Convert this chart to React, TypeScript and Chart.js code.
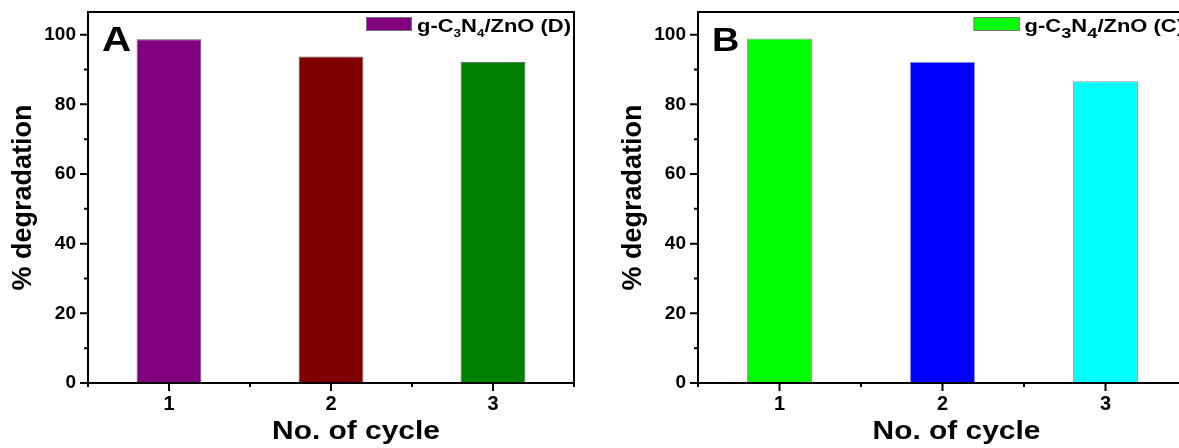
import React, { useEffect, useRef } from 'react';
import { Chart, registerables } from 'chart.js';

Chart.register(...registerables);

const CYCLES = ['1', '2', '3'];
const DEGRADATION_D = [98.7, 93.7, 92.2];
const DEGRADATION_C = [98.9, 92.2, 86.6];
const COLORS_D = ['#800080', '#800000', '#008000'];
const COLORS_C = ['#00FF00', '#0000FF', '#00FFFF'];
const Y_TICKS = [0, 20, 40, 60, 80, 100];
const Y_MINOR = [10, 30, 50, 70, 90];
const Y_MIN = 0;
const Y_MAX = 106.5;
const X_TITLE = 'No. of cycle';
const Y_TITLE = '% degradation';

const FONT = '"Liberation Sans", Arial, sans-serif';
const SX = 1.15; // horizontal widening of drawn labels
const LEGEND_SX = 1.22;

type Panel = {
  letter: string;
  values: number[];
  colors: string[];
  legendSub: string;
  subSize: number;
  subDy: number;
  left: number;
  width: number;
  yWidth: number;
  padRight: number;
  titleOffset: number;
  letterSize: number;
  borderColor: string;
};

const PANELS: Panel[] = [
  { letter: 'A', values: DEGRADATION_D, colors: COLORS_D, legendSub: '/ZnO (D)', subSize: 11, subDy: 5, left: 0, width: 590, yWidth: 88, padRight: 16, titleOffset: 25, letterSize: 35, borderColor: '#555' },
  { letter: 'B', values: DEGRADATION_C, colors: COLORS_C, legendSub: '/ZnO (C)', subSize: 15, subDy: 6, left: 600, width: 600, yWidth: 98, padRight: 13, titleOffset: 14, letterSize: 33, borderColor: '#999' },
];

function wideText(ctx: any, text: string, x: number, y: number, sx: number) {
  ctx.save();
  ctx.translate(x, y);
  ctx.scale(sx, 1);
  ctx.fillText(text, 0, 0);
  ctx.restore();
}

function makeDecor(p: Panel) {
  return {
    id: 'decor' + p.letter,
    afterDraw(chart: any) {
      const { ctx, chartArea } = chart;
      const { left, right, top, bottom } = chartArea;
      const xs = chart.scales.x;
      const ys = chart.scales.y;
      ctx.save();
      ctx.strokeStyle = '#000';
      ctx.lineWidth = 2;
      ctx.strokeRect(left, top, right - left, bottom - top);
      ctx.beginPath();
      Y_TICKS.forEach((v) => {
        const y = ys.getPixelForValue(v);
        ctx.moveTo(left - 8, y);
        ctx.lineTo(left, y);
      });
      Y_MINOR.forEach((v) => {
        const y = ys.getPixelForValue(v);
        ctx.moveTo(left - 4, y);
        ctx.lineTo(left, y);
      });
      CYCLES.forEach((_, i) => {
        const x = xs.getPixelForValue(i);
        ctx.moveTo(x, bottom);
        ctx.lineTo(x, bottom + 8);
      });
      for (let i = 0; i <= CYCLES.length; i++) {
        const x = xs.getPixelForValue(i - 0.5);
        ctx.moveTo(x, bottom);
        ctx.lineTo(x, bottom + 4);
      }
      ctx.stroke();

      ctx.fillStyle = '#000';
      ctx.textBaseline = 'alphabetic';
      // panel letter
      ctx.font = `bold ${p.letterSize}px ${FONT}`;
      ctx.textAlign = 'left';
      wideText(ctx, p.letter, left + 14, top + 39, SX);

      // x title
      ctx.font = `bold 26px ${FONT}`;
      ctx.textAlign = 'center';
      wideText(ctx, X_TITLE, (left + right) / 2 + p.titleOffset, 439, SX);

      // y title
      ctx.save();
      ctx.font = `bold 27px ${FONT}`;
      ctx.translate(left - 64, (top + bottom) / 2);
      ctx.rotate(-Math.PI / 2);
      ctx.textBaseline = 'middle';
      ctx.fillText(Y_TITLE, 0, 0);
      ctx.restore();

      // legend
      const big = `bold 18px ${FONT}`;
      const small = `bold ${p.subSize}px ${FONT}`;
      const parts: [string, string, number][] = [
        ['g-C', big, 0],
        ['3', small, p.subDy],
        ['N', big, 0],
        ['4', small, p.subDy],
        [p.legendSub, big, 0],
      ];
      let total = 0;
      parts.forEach(([t, f]) => {
        ctx.font = f;
        total += ctx.measureText(t).width * LEGEND_SX;
      });
      const baseY = top + 20;
      let x = right - 3 - total;
      const boxW = 46;
      const boxH = 14;
      const boxX = x - 5 - boxW;
      ctx.fillStyle = p.colors[0];
      ctx.fillRect(boxX, baseY - 15, boxW, boxH);
      ctx.lineWidth = 1;
      ctx.strokeStyle = '#777';
      ctx.strokeRect(boxX + 0.5, baseY - 14.5, boxW - 1, boxH - 1);
      ctx.fillStyle = '#000';
      ctx.textAlign = 'left';
      parts.forEach(([t, f, dy]) => {
        ctx.font = f;
        wideText(ctx, t, x, baseY + dy, LEGEND_SX);
        x += ctx.measureText(t).width * LEGEND_SX;
      });
      ctx.restore();
    },
  };
}

function PanelChart({ p }: { p: Panel }) {
  const ref = useRef<HTMLCanvasElement | null>(null);
  useEffect(() => {
    if (!ref.current) return;
    const chart = new Chart(ref.current, {
      type: 'bar',
      data: {
        labels: CYCLES,
        datasets: [
          {
            data: p.values,
            backgroundColor: p.colors,
            borderColor: p.borderColor,
            borderWidth: 1,
            barPercentage: 0.4,
            categoryPercentage: 1,
          },
        ],
      },
      options: {
        responsive: false,
        animation: false,
        devicePixelRatio: 1,
        layout: { padding: { left: 0, right: p.padRight, top: 12, bottom: 0 } },
        plugins: { legend: { display: false }, tooltip: { enabled: false } },
        scales: {
          x: {
            type: 'category',
            offset: true,
            grid: { display: false, drawTicks: false },
            border: { display: false },
            ticks: { color: '#000', font: { family: FONT, size: 20, weight: 'bold' }, padding: 9, maxRotation: 0 },
            afterFit: (s: any) => { s.height = 65; s.paddingLeft = 0; s.paddingRight = 0; },
          },
          y: {
            min: Y_MIN,
            max: Y_MAX,
            grid: { display: false, drawTicks: false },
            border: { display: false },
            ticks: { color: '#000', font: { family: FONT, size: 19, weight: 'bold' }, padding: 12 },
            afterBuildTicks: (s: any) => { s.ticks = Y_TICKS.map((v) => ({ value: v })); },
            afterFit: (s: any) => { s.width = p.yWidth; s.paddingTop = 0; s.paddingBottom = 0; },
          },
        },
      },
      plugins: [makeDecor(p)],
    });
    return () => chart.destroy();
  }, [p]);
  return (
    <div style={{ position: 'absolute', left: p.left, top: 0, width: p.width, height: 448 }}>
      <canvas ref={ref} width={p.width} height={448} style={{ display: 'block' }} />
    </div>
  );
}

export default function App() {
  return (
    <div style={{ position: 'absolute', left: 0, top: 0, width: 1179, height: 448, overflow: 'hidden', background: '#fff' }}>
      {PANELS.map((p) => (
        <PanelChart key={p.letter} p={p} />
      ))}
    </div>
  );
}
